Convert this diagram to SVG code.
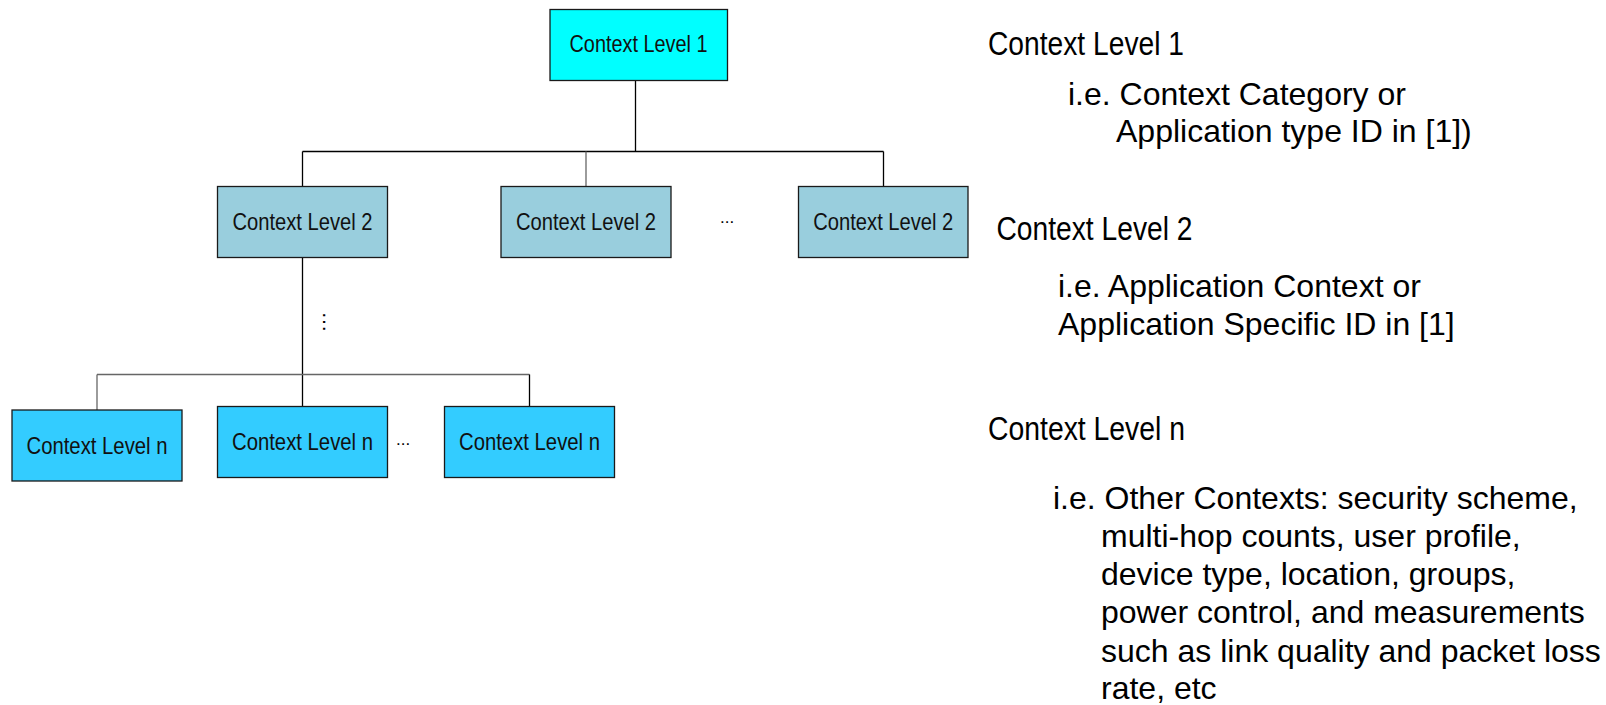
<svg xmlns="http://www.w3.org/2000/svg" width="1606" height="705" viewBox="0 0 1606 705">
<style>
  .box { stroke: #1a1a1a; stroke-width: 1.3; }
  .l1 { fill: #00FFFF; }
  .l2 { fill: #99CEDD; }
  .ln { fill: #33CCFF; }
  .lbl { font-family: "Liberation Sans", Arial, sans-serif; font-size: 24px; fill: #111; text-anchor: middle; }
  .title { font-family: "Liberation Sans", Arial, sans-serif; font-size: 33px; fill: #000; }
  .desc { font-family: "Liberation Sans", Arial, sans-serif; font-size: 32px; fill: #000; }
  .dots { font-family: "Liberation Sans", Arial, sans-serif; fill: #000; }
  .conn line { stroke: #000; stroke-width: 1.3; }
  .conn line.grey { stroke: #666; }
</style>
<rect width="1606" height="705" fill="#fff"/>

<g id="connectors" class="conn">
  <line x1="635.5" y1="80" x2="635.5" y2="151.5"/>
  <line x1="302.5" y1="151.5" x2="883.5" y2="151.5"/>
  <line x1="302.5" y1="151.5" x2="302.5" y2="187"/>
  <line class="grey" x1="586" y1="151.5" x2="586" y2="187"/>
  <line x1="883.5" y1="151.5" x2="883.5" y2="187"/>
  <line x1="302.5" y1="257.5" x2="302.5" y2="406.5"/>
  <line class="grey" x1="97" y1="374.5" x2="529.5" y2="374.5"/>
  <line class="grey" x1="97" y1="374.5" x2="97" y2="410"/>
  <line x1="529.5" y1="374.5" x2="529.5" y2="406.5"/>
</g>

<g id="node-l1">
  <rect class="box l1" x="550" y="9.5" width="177.5" height="71"/>
  <text class="lbl" x="638.5" y="52" textLength="138" lengthAdjust="spacingAndGlyphs">Context Level 1</text>
</g>

<g id="node-l2a">
  <rect class="box l2" x="217.5" y="186.5" width="170" height="71"/>
  <text class="lbl" x="302.5" y="230" textLength="140" lengthAdjust="spacingAndGlyphs">Context Level 2</text>
</g>
<g id="node-l2b">
  <rect class="box l2" x="501" y="186.5" width="170" height="71"/>
  <text class="lbl" x="586" y="230" textLength="140" lengthAdjust="spacingAndGlyphs">Context Level 2</text>
</g>
<g id="node-l2c">
  <rect class="box l2" x="798.5" y="186.5" width="169.5" height="71"/>
  <text class="lbl" x="883.3" y="230" textLength="140" lengthAdjust="spacingAndGlyphs">Context Level 2</text>
</g>
<text class="dots" x="720" y="223" font-size="17">...</text>

<text class="dots" font-size="21" text-anchor="middle" transform="translate(323,322) rotate(90)">…</text>

<g id="node-ln1">
  <rect class="box ln" x="12" y="410" width="170" height="71"/>
  <text class="lbl" x="97" y="453.5" textLength="141" lengthAdjust="spacingAndGlyphs">Context Level n</text>
</g>
<g id="node-ln2">
  <rect class="box ln" x="217.5" y="406.5" width="170" height="71"/>
  <text class="lbl" x="302.5" y="450" textLength="141" lengthAdjust="spacingAndGlyphs">Context Level n</text>
</g>
<g id="node-ln3">
  <rect class="box ln" x="444.5" y="406.5" width="170" height="71"/>
  <text class="lbl" x="529.5" y="450" textLength="141" lengthAdjust="spacingAndGlyphs">Context Level n</text>
</g>
<text class="dots" x="396" y="445" font-size="17">...</text>

<g id="legend-l1">
  <text class="title" x="988" y="55" textLength="196" lengthAdjust="spacingAndGlyphs">Context Level 1</text>
  <text class="desc" x="1068" y="104.5">i.e. Context Category or</text>
  <text class="desc" x="1116" y="142">Application type ID in [1])</text>
</g>
<g id="legend-l2">
  <text class="title" x="996.5" y="240" textLength="196" lengthAdjust="spacingAndGlyphs">Context Level 2</text>
  <text class="desc" x="1058" y="297">i.e. Application Context or</text>
  <text class="desc" x="1058" y="335">Application Specific ID in [1]</text>
</g>
<g id="legend-ln">
  <text class="title" x="988" y="439.5" textLength="197" lengthAdjust="spacingAndGlyphs">Context Level n</text>
  <text class="desc" x="1053" y="508.5">i.e. Other Contexts: security scheme,</text>
  <text class="desc" x="1101" y="547">multi-hop counts, user profile,</text>
  <text class="desc" x="1101" y="585">device type, location, groups,</text>
  <text class="desc" x="1101" y="623">power control, and measurements</text>
  <text class="desc" x="1101" y="661.5">such as link quality and packet loss</text>
  <text class="desc" x="1101" y="698.5">rate, etc</text>
</g>
</svg>
